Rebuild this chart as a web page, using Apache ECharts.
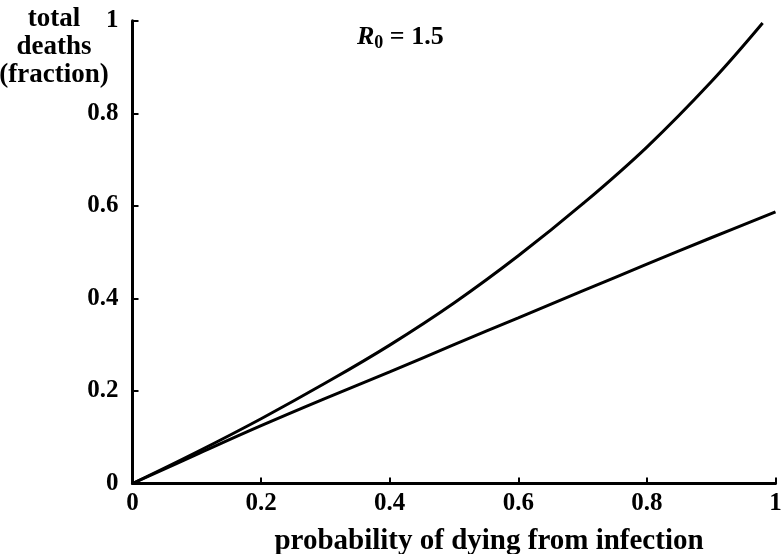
<!DOCTYPE html>
<html>
<head>
<meta charset="utf-8">
<script src="https://cdn.jsdelivr.net/npm/echarts@6/dist/echarts.min.js"></script>
<style>html,body{margin:0;padding:0;background:#fff}#c{width:781px;height:554px}</style>
</head>
<body>
<div id="c"></div>
<script>
var upperX = [0, 0.1, 0.2, 0.3, 0.4, 0.5, 0.6, 0.7, 0.8, 0.9, 0.98];
var upperY = [0, 0.068, 0.140, 0.217, 0.299, 0.390, 0.492, 0.604, 0.727, 0.868, 0.995];
var lowerX = [0, 0.1, 0.2, 0.3, 0.4, 0.5, 0.6, 0.7, 0.8, 0.9, 1.0];
var lowerY = [0, 0.063, 0.125, 0.184, 0.241, 0.300, 0.358, 0.416, 0.474, 0.531, 0.587];
var xTicks = [0, 0.2, 0.4, 0.6, 0.8, 1];
var yTicks = [0, 0.2, 0.4, 0.6, 0.8, 1];
var xName = 'probability of dying from infection';
var yName = 'total\ndeaths\n(fraction)';

function pairs(xs, ys){ return xs.map(function(x,i){ return [x, ys[i]]; }); }
var font = 'Liberation Serif';
var lbl = {color:'#000', fontFamily:font, fontSize:25, fontWeight:'bold',
  formatter:function(v){ return String(+v.toFixed(1)); }};
var chart = echarts.init(document.getElementById('c'));
var grid = {left:132.5, right:5.5, top:20.7, bottom:70.5, containLabel:false, outerBoundsMode:'none'};
function xa(inside, len, show){
  return {type:'value', min:0, max:1, interval:0.2, gridIndex:0,
    axisLine:{show:show, lineStyle:{color:'#000', width:3}},
    axisTick:{show:true, inside:inside, length:len, lineStyle:{color:'#000', width:2}},
    axisLabel: show ? Object.assign({margin:8}, lbl) : {show:false},
    splitLine:{show:false}};
}
function ya(inside, len, show){
  return {type:'value', min:0, max:1, interval:0.2, gridIndex:0,
    axisLine:{show:show, lineStyle:{color:'#000', width:3}},
    axisTick:{show:true, inside:inside, length:len, lineStyle:{color:'#000', width:2}},
    axisLabel: show ? Object.assign({margin:14}, lbl) : {show:false},
    splitLine:{show:false}};
}
chart.setOption({
  animation:false,
  backgroundColor:'#fff',
  grid:grid,
  xAxis:[xa(true,6,true), xa(false,3,false)],
  yAxis:[ya(true,6,true), ya(false,6,false)],
  graphic:[
    {type:'text', x:54, y:5, style:{text:yName, fill:'#000', font:'bold 27px "Liberation Serif"',
      align:'center', verticalAlign:'top', lineHeight:28}},
    {type:'text', x:489, y:556, style:{text:xName, fill:'#000', font:'bold 29px "Liberation Serif"',
      align:'center', verticalAlign:'bottom'}},
    {type:'text', left:357, top:24, style:{
      rich:{i:{fontFamily:font, fontStyle:'italic', fontWeight:'bold', fontSize:26, fill:'#000'},
            s:{fontFamily:font, fontWeight:'bold', fontSize:18, fill:'#000', padding:[12,0,0,0]},
            n:{fontFamily:font, fontWeight:'bold', fontSize:26, fill:'#000'}},
      text:'{i|R}{s|0}{n| = 1.5}'}}
  ],
  series:[
    {type:'line', xAxisIndex:0, yAxisIndex:0, smooth:0.4, showSymbol:false,
     lineStyle:{color:'#000', width:3}, data:pairs(upperX, upperY)},
    {type:'line', xAxisIndex:0, yAxisIndex:0, smooth:0.4, showSymbol:false,
     lineStyle:{color:'#000', width:3}, data:pairs(lowerX, lowerY)}
  ]
});
</script>
</body>
</html>
